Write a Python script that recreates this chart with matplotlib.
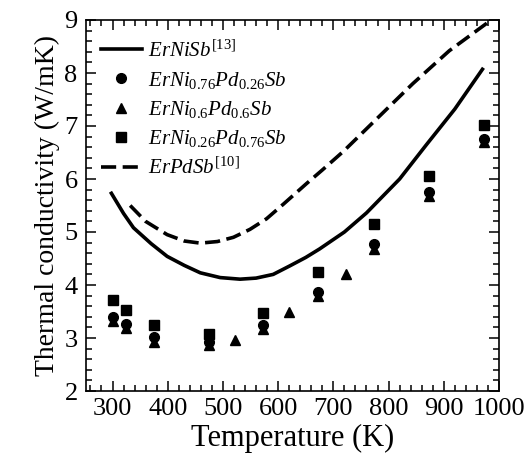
import matplotlib
matplotlib.use("Agg")
import matplotlib.pyplot as plt
from matplotlib.ticker import MultipleLocator

plt.rcParams['font.family'] = ['Liberation Serif', 'DejaVu Serif']
plt.rcParams['mathtext.fontset'] = 'custom'
plt.rcParams['mathtext.rm'] = 'Liberation Serif'
plt.rcParams['mathtext.it'] = 'Liberation Serif:italic'
plt.rcParams['mathtext.bf'] = 'Liberation Serif:bold'

# ErNiSb [13] (solid line)
ernisb_T = [298, 320, 338, 370, 399, 430, 459, 495, 531, 560, 591, 621, 650, 675, 720, 760, 820, 868, 920, 970]
ernisb_k = [5.73, 5.35, 5.08, 4.78, 4.54, 4.37, 4.23, 4.14, 4.11, 4.13, 4.20, 4.36, 4.52, 4.68, 5.00, 5.36, 6.00, 6.64, 7.32, 8.07]

# ErPdSb [10] (dashed line)
erpdsb_T = [332, 360, 399, 430, 459, 490, 519, 549, 579, 610, 651, 680, 718, 780, 844, 910, 982]
erpdsb_k = [5.50, 5.20, 4.95, 4.83, 4.79, 4.82, 4.90, 5.05, 5.25, 5.53, 5.91, 6.17, 6.52, 7.15, 7.80, 8.42, 8.97]

# ErNi0.76Pd0.26Sb (circles)
c_T = [300, 325, 375, 474, 572, 672, 773, 873, 973]
c_k = [3.40, 3.26, 3.02, 2.92, 3.24, 3.87, 4.78, 5.75, 6.75]

# ErNi0.6Pd0.6Sb (triangles)
t_T = [300, 325, 375, 474, 521, 572, 620, 672, 722, 773, 873, 973]
t_k = [3.33, 3.19, 2.93, 2.87, 2.96, 3.17, 3.50, 3.80, 4.20, 4.68, 5.67, 6.69]

# ErNi0.26Pd0.76Sb (squares)
s_T = [300, 325, 375, 474, 572, 672, 773, 873, 973]
s_k = [3.71, 3.53, 3.24, 3.07, 3.47, 4.25, 5.16, 6.05, 7.02]

labels = [r'$ErNiSb^{[13]}$',
          r'$ErNi_{0.76}Pd_{0.26}Sb$',
          r'$ErNi_{0.6}Pd_{0.6}Sb$',
          r'$ErNi_{0.26}Pd_{0.76}Sb$',
          r'$ErPdSb^{[10]}$']

fig = plt.figure(figsize=(5.27, 4.61), dpi=100)
ax = fig.add_axes([86/527, 1 - 391/461, 413/527, 371/461])

ax.plot(ernisb_T, ernisb_k, color='black', lw=2.6, label=labels[0])
ax.plot(c_T, c_k, 'o', color='black', ms=7, label=labels[1])
ax.plot(t_T, t_k, '^', color='black', ms=7.5, label=labels[2])
ax.plot(s_T, s_k, 's', color='black', ms=7.5, label=labels[3])
ax.plot(erpdsb_T, erpdsb_k, color='black', lw=2.6, dashes=(4.2, 1.8), label=labels[4])

ax.set_xlim(252, 1000)
ax.set_ylim(2, 9)
ax.xaxis.set_major_locator(MultipleLocator(100))
ax.xaxis.set_minor_locator(MultipleLocator(20))
ax.yaxis.set_major_locator(MultipleLocator(1))
ax.yaxis.set_minor_locator(MultipleLocator(0.2))
ax.tick_params(which='both', direction='in', top=True, right=True, width=1.1, labelsize=19)
ax.tick_params(axis='x', pad=5)
ax.tick_params(axis='y', pad=6)
ax.tick_params(which='major', length=7)
ax.tick_params(which='minor', length=4.5)
for sp in ax.spines.values():
    sp.set_linewidth(1.2)

ax.set_xlabel('Temperature (K)', fontsize=22, labelpad=3)
ax.set_ylabel('Thermal conductivity (W/mK)', fontsize=20, labelpad=3)

ax.legend(loc='upper left', frameon=False, fontsize=15, handlelength=2.0,
          handletextpad=0.3, labelspacing=0.4, borderaxespad=0.3,
          bbox_to_anchor=(0.0, 0.985))

fig.savefig('out.png', dpi=100)
